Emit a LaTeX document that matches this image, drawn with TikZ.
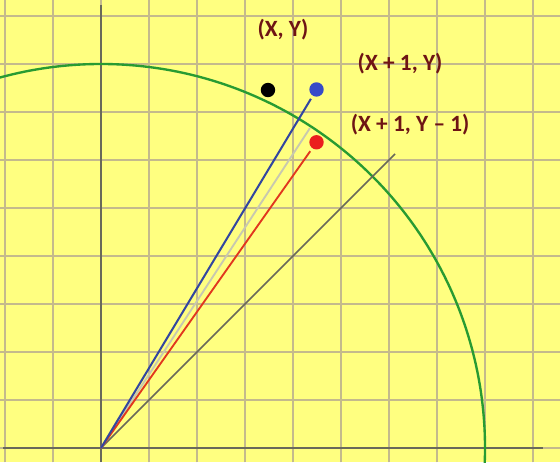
\documentclass[tikz,border=0pt]{standalone}
\usepackage{fontspec}
\setmainfont{Carlito}
\definecolor{bgyellow}{RGB}{255,255,128}
\definecolor{gridtan}{RGB}{196,186,140}
\definecolor{axisgray}{RGB}{105,105,90}
\definecolor{arcgreen}{RGB}{40,155,50}
\definecolor{lineblue}{RGB}{50,70,160}
\definecolor{dotblue}{RGB}{55,75,200}
\definecolor{dotred}{RGB}{235,30,30}
\definecolor{linered}{RGB}{225,55,30}
\definecolor{lightline}{RGB}{200,200,175}
\definecolor{labelred}{RGB}{110,20,20}
\tikzset{
  gridline/.style={draw=gridtan, line width=1.3pt},
  axisline/.style={draw=axisgray, line width=1.5pt},
  dotnode/.style={circle, inner sep=0pt, minimum size=0.3cm},
  coordlabel/.style={text=labelred, font=\bfseries\fontsize{13.8}{16}\selectfont, inner sep=0pt}
}
\begin{document}
\begin{tikzpicture}
\useasboundingbox (-2.104,-0.2917) rectangle (9.5625,9.3333);
\fill[bgyellow] (-2.104,-0.2917) rectangle (9.5625,9.3333);
\clip (-2.104,-0.2917) rectangle (9.5625,9.3333);
% grid
\foreach \x in {-2,...,9} \draw[gridline] (\x,-0.3) -- (\x,9.4);
\foreach \y in {0,...,9} \draw[gridline] (-2.2,\y) -- (9.6,\y);
% axes
\coordinate (O) at (0,0);
\coordinate (xl) at (-2.04,0);
\coordinate (xr) at (9.21,0);
\coordinate (yt) at (0,9.23);
\coordinate (yb) at (0,-0.3);
\draw[axisline] (xl) -- (xr);
\draw[axisline] (yt) -- (yb);
% circle arc
\draw[arcgreen, line width=1.4pt] (-3:8) arc[start angle=-3, end angle=112, radius=8];
% dots
\node[dotnode, fill=black] (P) at (3.479,7.458) {};
\node[dotnode, fill=dotblue] (E) at (4.49,7.469) {};
\node[dotnode, fill=dotred] (SE) at (4.49,6.369) {};
\coordinate (C) at (56.85:7.96);
\coordinate (D) at (6.125,6.125);
% lines
\draw[axisgray, line width=1pt] (O) -- (D);
\draw[lightline, line width=1.1pt] (O) -- (C);
\draw[linered, line width=1.1pt, shorten >=2pt] (O) -- (SE);
\draw[lineblue, line width=1.2pt, shorten >=2pt] (O) -- (E);
% labels
\node[coordlabel] (LP) at (3.79,8.72) {(X, Y)};
\node[coordlabel] (LE) at (6.23,8.0) {(X + 1, Y)};
\node[coordlabel] (LSE) at (6.44,6.73) {(X + 1, Y – 1)};
\end{tikzpicture}
\end{document}
